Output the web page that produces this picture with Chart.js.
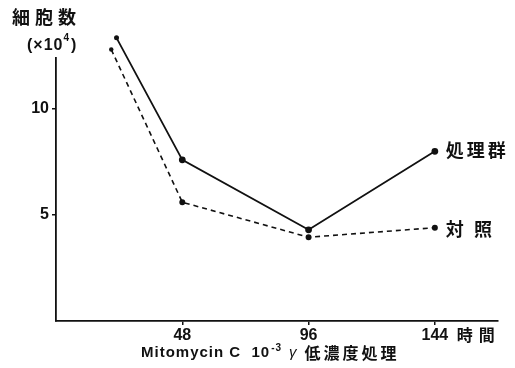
<!DOCTYPE html>
<html>
<head>
<meta charset="utf-8">
<script src="https://cdn.jsdelivr.net/npm/chart.js@4/dist/chart.umd.min.js"></script>
<style>
  body { margin: 0; background: #fff; }
  #wrap { width: 515px; height: 368px; position: relative; }
</style>
</head>
<body>
<div id="wrap"><canvas id="cellChart" width="515" height="368"></canvas></div>
<script>
// data
const treatedHours = [23, 48, 96, 144];
const treatedCells = [13.35, 7.6, 4.3, 8.0];
const controlHours = [21, 48, 96, 144];
const controlCells = [12.8, 5.6, 3.95, 4.4];
const xTicks = [48, 96, 144];
const yTicks = [5, 10];
const seriesNames = ["処理群", "対 照"];

const jpFont = '"Noto Sans CJK JP", sans-serif';
const numFont = '"Liberation Sans", Arial, sans-serif';

function toPoints(xs, ys) {
  return xs.map((x, i) => ({ x: x, y: ys[i] }));
}

// Chart.js skips points above the chart area, the first readings sit there
const outsidePoints = {
  id: "outsidePoints",
  afterDatasetsDraw(chart) {
    const ctx = chart.ctx;
    const top = chart.chartArea.top;
    ctx.save();
    ctx.fillStyle = "#111";
    chart.data.datasets.forEach((ds, i) => {
      chart.getDatasetMeta(i).data.forEach((pt) => {
        if (pt.y < top) {
          ctx.beginPath();
          ctx.arc(pt.x, pt.y, ds.pointRadius, 0, Math.PI * 2);
          ctx.fill();
        }
      });
    });
    ctx.restore();
  }
};

// extra text: axis titles, unit and series names
const labelsPlugin = {
  id: "labels",
  afterDraw(chart) {
    const ctx = chart.ctx;
    const xs = chart.scales.x;
    const ys = chart.scales.y;
    ctx.save();
    ctx.fillStyle = "#111";
    ctx.textBaseline = "middle";
    ctx.textAlign = "left";

    // y title
    ctx.font = "bold 18px " + jpFont;
    ctx.letterSpacing = "5px";
    ctx.fillText("細胞数", 12, 17);
    ctx.letterSpacing = "1px";
    ctx.font = "bold 16px " + numFont;
    ctx.fillText("(×10", 27, 46);
    let w = ctx.measureText("(×10").width;
    ctx.font = "bold 10px " + numFont;
    ctx.fillText("4", 27 + w, 38);
    let w2 = ctx.measureText("4").width;
    ctx.font = "bold 16px " + numFont;
    ctx.fillText(")", 27 + w + w2 + 1, 46);

    // hours unit after last tick
    ctx.font = "bold 16px " + jpFont;
    ctx.letterSpacing = "6px";
    ctx.fillText("時間", xs.getPixelForValue(144) + 22, 335);

    // x title
    let x = 141;
    const y = 353;
    ctx.letterSpacing = "1px";
    ctx.font = "bold 15px " + numFont;
    ctx.fillText("Mitomycin C  10", x, y);
    x += ctx.measureText("Mitomycin C  10").width;
    ctx.font = "bold 10px " + numFont;
    ctx.fillText("-3", x + 1, y - 5);
    x += ctx.measureText("-3").width + 8;
    ctx.font = "italic 15px " + numFont;
    ctx.fillText("γ", x, y);
    x += ctx.measureText("γ").width + 7;
    ctx.font = "bold 16px " + jpFont;
    ctx.letterSpacing = "3px";
    ctx.fillText("低濃度処理", x, y);

    // series names at line ends
    ctx.font = "bold 18px " + jpFont;
    ctx.letterSpacing = "3px";
    const last = treatedHours.length - 1;
    ctx.fillText(seriesNames[0], xs.getPixelForValue(treatedHours[last]) + 11, ys.getPixelForValue(treatedCells[last]) - 1);
    ctx.fillText(seriesNames[1], xs.getPixelForValue(controlHours[last]) + 11, ys.getPixelForValue(controlCells[last]) + 1);
    ctx.restore();
  }
};

new Chart(document.getElementById("cellChart"), {
  type: "line",
  data: {
    datasets: [
      {
        label: seriesNames[0],
        data: toPoints(treatedHours, treatedCells),
        borderColor: "#111",
        backgroundColor: "#111",
        borderWidth: 1.8,
        pointRadius: 2.5,
        tension: 0,
        clip: false
      },
      {
        label: seriesNames[1],
        data: toPoints(controlHours, controlCells),
        borderColor: "#111",
        backgroundColor: "#111",
        borderWidth: 1.6,
        borderDash: [5, 4],
        pointRadius: 2.2,
        tension: 0,
        clip: false
      }
    ]
  },
  options: {
    responsive: false,
    animation: false,
    layout: { padding: { top: 58, right: 17, left: 0, bottom: 0 } },
    plugins: { legend: { display: false }, tooltip: { enabled: false } },
    scales: {
      x: {
        type: "linear",
        min: 0,
        max: 168,
        afterBuildTicks: (axis) => { axis.ticks = xTicks.map((v) => ({ value: v })); },
        afterFit: (axis) => { axis.height = 47; },
        border: { color: "#111", width: 1.8 },
        grid: { drawOnChartArea: false, tickLength: 4, color: "#111", lineWidth: 1.5 },
        ticks: {
          color: "#111",
          font: { family: numFont, size: 16, weight: "bold" },
          padding: 1,
          maxRotation: 0
        }
      },
      y: {
        min: 0,
        max: 12.4,
        afterBuildTicks: (axis) => { axis.ticks = yTicks.map((v) => ({ value: v })); },
        afterFit: (axis) => { axis.width = 56; },
        border: { color: "#111", width: 1.8 },
        grid: { drawOnChartArea: false, tickLength: 4, color: "#111", lineWidth: 1.5 },
        ticks: {
          color: "#111",
          font: { family: numFont, size: 16, weight: "bold" },
          padding: 3
        }
      }
    }
  },
  plugins: [outsidePoints, labelsPlugin]
});
</script>
</body>
</html>
